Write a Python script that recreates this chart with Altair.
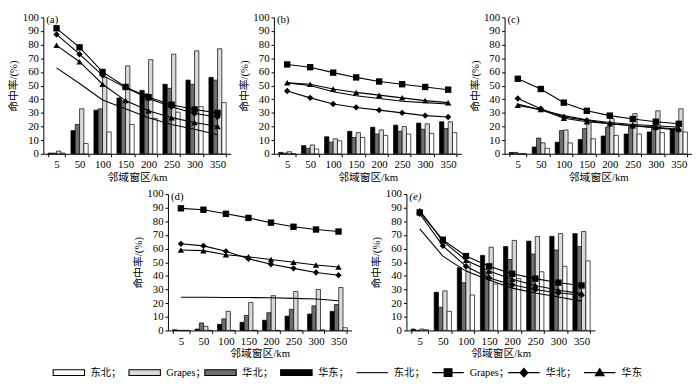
import altair as alt
import pandas as pd

X_LABELS = ["5", "50", "100", "150", "200", "250", "300", "350"]
BAR_SERIES = ["华东", "华北", "Grapes", "东北"]
BAR_COLORS = ["#000000", "#6e6e6e", "#d9d9d9", "#ffffff"]
LINE_SERIES = ["东北", "Grapes", "华北", "华东"]
MARKER_SERIES = ["Grapes", "华北", "华东"]
MARKER_SHAPES = ["square", "diamond", "triangle-up"]

# ---- panel (a) ----
A_BAR_HUADONG = [0.5, 17, 32, 41, 46.5, 51, 54, 56]
A_BAR_HUABEI = [0.5, 21.5, 33, 39, 44, 48, 51, 54]
A_BAR_GRAPES = [2, 33, 56, 64.5, 69, 73, 75.5, 77]
A_BAR_DONGBEI = [0.5, 7.5, 16, 21.5, 26, 30.5, 34.5, 37.5]
A_LINE_DONGBEI = [63, 51.5, 39.5, 33, 26.5, 21.5, 18, 14]
A_LINE_GRAPES = [92, 78, 60, 49, 41.5, 36, 32.5, 30]
A_LINE_HUABEI = [87.5, 73, 57.5, 48.5, 40.5, 34.5, 29.5, 27]
A_LINE_HUADONG = [79.5, 67.5, 51, 39, 31.5, 26.5, 23, 20]

# ---- panel (b) ----
B_BAR_HUADONG = [1, 6, 12.5, 16.5, 19.5, 21, 22.5, 23.5]
B_BAR_HUABEI = [0.5, 4, 8.5, 12, 14.5, 16.5, 18, 18.5]
B_BAR_GRAPES = [1.5, 6.5, 11, 15.5, 17.5, 20, 22, 23.5]
B_BAR_DONGBEI = [0, 3.5, 9.5, 12, 13.5, 14.5, 15, 15.5]
B_LINE_DONGBEI = [52, 50, 45.5, 42.5, 40.5, 38.5, 37.5, 36.5]
B_LINE_GRAPES = [65.5, 63.5, 59.5, 56, 53, 51, 49, 47]
B_LINE_HUABEI = [46, 41, 36.5, 34, 32, 30, 28, 27]
B_LINE_HUADONG = [52, 51, 47.5, 45, 43, 41, 39, 37.5]

# ---- panel (c) ----
C_BAR_HUADONG = [1, 5, 8.5, 10.5, 13, 14.5, 16, 18]
C_BAR_HUABEI = [1, 11.5, 17, 18.5, 19.5, 20, 20, 19]
C_BAR_GRAPES = [0, 8, 17.5, 23, 26, 29.5, 31.5, 33]
C_BAR_DONGBEI = [0, 4, 8, 11, 13.5, 14.5, 15.5, 16]
C_LINE_DONGBEI = [36.5, 32, 28, 25, 23, 21.5, 20.5, 19.5]
C_LINE_GRAPES = [55, 47.5, 37.5, 31.5, 28, 25.5, 23.5, 22]
C_LINE_HUABEI = [40.5, 33, 27, 24.5, 22, 20.5, 19, 17.5]
C_LINE_HUADONG = [35.5, 32.5, 26, 23.5, 22, 20.5, 19.5, 18]

# ---- panel (d) ----
D_BAR_HUADONG = [0.5, 1, 4.5, 6, 7.5, 10.5, 12, 14]
D_BAR_HUABEI = [0, 5.5, 8.5, 11, 13, 15.5, 18, 19]
D_BAR_GRAPES = [0, 3, 14, 20.5, 25.5, 28.5, 30, 31.5]
D_BAR_DONGBEI = [0, 0, 0, 0, 0, 0, 0.5, 2]
D_LINE_DONGBEI = [24.3, 24.3, 24.2, 24.1, 24, 23.5, 23, 21.8]
D_LINE_GRAPES = [89.5, 88.5, 85.5, 82.5, 79, 76, 74, 72.5]
D_LINE_HUABEI = [63.5, 62, 58, 52.5, 48.5, 45.5, 42.5, 40.5]
D_LINE_HUADONG = [59, 58.5, 55.5, 54, 52, 50, 48, 46.5]

# ---- panel (e) ----
E_BAR_HUADONG = [1, 28, 46, 55, 61.5, 65.5, 69, 71]
E_BAR_HUABEI = [0, 17, 35, 43, 52, 56, 59, 61.5]
E_BAR_GRAPES = [1, 29, 50, 61, 66, 69, 71, 72.5]
E_BAR_DONGBEI = [0.5, 14, 26, 34, 38, 43, 47, 51]
E_LINE_DONGBEI = [74.5, 54.5, 43.5, 37, 31, 27.5, 24.5, 21.5]
E_LINE_GRAPES = [86.5, 66.5, 54.5, 47, 41.5, 38, 35, 33]
E_LINE_HUABEI = [85.5, 62, 47, 38.5, 33.5, 30, 27.5, 26]
E_LINE_HUADONG = [88, 65.5, 51.5, 43.5, 37.5, 33, 29.5, 27]

LEGEND_KEYS = ["bar_东北", "bar_Grapes", "bar_华北", "bar_华东",
               "line_东北", "line_Grapes", "line_华北", "line_华东"]
LEGEND_TEXT = ["东北；", "Grapes；", "华北；", "华东；", "东北；", "Grapes；", "华北；", "华东"]

FONT = "Liberation Serif, Noto Sans CJK SC"

RECT_PATH = "M-1,-0.18H1V0.18H-1Z"
LINE_PATH = "M-1,0H1"
LINE_SQ_PATH = "M-1,0H1M-0.25,-0.25H0.25V0.25H-0.25Z"
LINE_DI_PATH = "M-1,0H1M0,-0.27L0.25,0L0,0.27L-0.25,0Z"
LINE_TR_PATH = "M-1,0H1M0,-0.26L0.28,0.2L-0.28,0.2Z"
LEGEND_SHAPES = [RECT_PATH] * 4 + [LINE_PATH, LINE_SQ_PATH, LINE_DI_PATH, LINE_TR_PATH]
LEGEND_FILLS = ["#ffffff", "#d9d9d9", "#6e6e6e", "#000000", "#000000", "#000000", "#000000", "#000000"]


def make_panel(tag, bars, lines, w, h, italic=False):
    bar_rows = []
    for s, vals in zip(BAR_SERIES, bars):
        for i, v in enumerate(vals):
            bar_rows.append({"x": X_LABELS[i], "series": s, "value": v})
    line_rows = []
    for s, vals in zip(LINE_SERIES, lines):
        for i, v in enumerate(vals):
            line_rows.append({"x": X_LABELS[i], "lseries": s, "value": v, "idx": i})
    bar_df = pd.DataFrame(bar_rows)
    line_df = pd.DataFrame(line_rows)
    pt_df = line_df[line_df["lseries"] != "东北"]

    x_enc = alt.X("x:N", sort=X_LABELS,
                  scale=alt.Scale(paddingInner=0.25, paddingOuter=0.2),
                  axis=alt.Axis(title="邻域窗区/km", labelAngle=0, tickBand="extent"))
    y_enc = alt.Y("value:Q", scale=alt.Scale(domain=[0, 100], nice=False),
                  axis=alt.Axis(title="命中率/(%)", values=list(range(0, 101, 10)), titleX=-25))

    bars_c = alt.Chart(bar_df).mark_bar(stroke="black", strokeWidth=0.7).encode(
        x=x_enc,
        xOffset=alt.XOffset("series:N", sort=BAR_SERIES,
                            scale=alt.Scale(paddingInner=0, paddingOuter=0)),
        y=y_enc,
        fill=alt.Fill("series:N", scale=alt.Scale(domain=BAR_SERIES, range=BAR_COLORS), legend=None),
    )
    lines_c = alt.Chart(line_df).mark_line(color="black", strokeWidth=1.1).encode(
        x=x_enc, y=y_enc, detail="lseries:N", order=alt.Order("idx:Q")
    )
    pts_c = alt.Chart(pt_df).mark_point(filled=True, color="black", opacity=1, size=42).encode(
        x=x_enc, y=y_enc,
        shape=alt.Shape("lseries:N", scale=alt.Scale(domain=MARKER_SERIES, range=MARKER_SHAPES), legend=None),
    )
    lab = alt.Chart(pd.DataFrame({"t": [tag]})).mark_text(
        align="left", baseline="top", font=FONT, fontSize=11,
        fontStyle="italic" if italic else "normal", color="black"
    ).encode(x=alt.value(3), y=alt.value(-3), text="t:N")
    return alt.layer(bars_c, lines_c, pts_c, lab).properties(width=w, height=h)


W1, H = 191, 139
pa = make_panel("(a)", [A_BAR_HUADONG, A_BAR_HUABEI, A_BAR_GRAPES, A_BAR_DONGBEI],
                [A_LINE_DONGBEI, A_LINE_GRAPES, A_LINE_HUABEI, A_LINE_HUADONG], W1, H)
pb = make_panel("(b)", [B_BAR_HUADONG, B_BAR_HUABEI, B_BAR_GRAPES, B_BAR_DONGBEI],
                [B_LINE_DONGBEI, B_LINE_GRAPES, B_LINE_HUABEI, B_LINE_HUADONG], W1, H)
pc = make_panel("(c)", [C_BAR_HUADONG, C_BAR_HUABEI, C_BAR_GRAPES, C_BAR_DONGBEI],
                [C_LINE_DONGBEI, C_LINE_GRAPES, C_LINE_HUABEI, C_LINE_HUADONG], W1, H)
pd_ = make_panel("(d)", [D_BAR_HUADONG, D_BAR_HUABEI, D_BAR_GRAPES, D_BAR_DONGBEI],
                 [D_LINE_DONGBEI, D_LINE_GRAPES, D_LINE_HUABEI, D_LINE_HUADONG], 187, H)
pe = make_panel("(e)", [E_BAR_HUADONG, E_BAR_HUABEI, E_BAR_GRAPES, E_BAR_DONGBEI],
                [E_LINE_DONGBEI, E_LINE_GRAPES, E_LINE_HUABEI, E_LINE_HUADONG], 192, H, italic=True)

# empty spacer that shifts the second row to the right
spacer = alt.Chart(pd.DataFrame({"s": [0]})).mark_point(opacity=0).encode(
    x=alt.value(0), y=alt.value(0)
).properties(width=71, height=10)

leg_df = pd.DataFrame({"key": LEGEND_KEYS, "text": LEGEND_TEXT})
leg_x = alt.X("key:N", sort=LEGEND_KEYS,
              scale=alt.Scale(type="point", range=[26, 567], padding=0), axis=None)
leg_sym = alt.Chart(leg_df).mark_point(size=1024, opacity=1, stroke="black", strokeWidth=1.1).encode(
    x=leg_x,
    y=alt.value(8),
    shape=alt.Shape("key:N", scale=alt.Scale(domain=LEGEND_KEYS, range=LEGEND_SHAPES), legend=None),
    fill=alt.Fill("key:N", scale=alt.Scale(domain=LEGEND_KEYS, range=LEGEND_FILLS), legend=None),
)
leg_txt = alt.Chart(leg_df).mark_text(align="left", baseline="middle", dx=22, font=FONT,
                                      fontSize=10.5, color="black").encode(
    x=leg_x, y=alt.value(8), text="text:N"
)
legend = alt.layer(leg_sym, leg_txt).properties(width=630, height=15)

row1 = alt.hconcat(pa, pb, pc, spacing=8)
row2 = alt.hconcat(spacer, pd_, pe, spacing=20)

chart = alt.vconcat(row1, row2, legend, spacing=6).resolve_scale(
    fill="independent", shape="independent"
).properties(padding=0).configure_view(stroke=None).configure_axis(
    labelFont=FONT, titleFont=FONT, labelFontSize=11, titleFontSize=11,
    titleFontWeight="normal", labelColor="black", titleColor="black",
    domainColor="black", tickColor="black", tickSize=3, labelPadding=2,
    titlePadding=3, grid=False
).configure_axisX(titlePadding=2)

chart.save("out.html", embed_options={"renderer": "svg", "actions": False})
